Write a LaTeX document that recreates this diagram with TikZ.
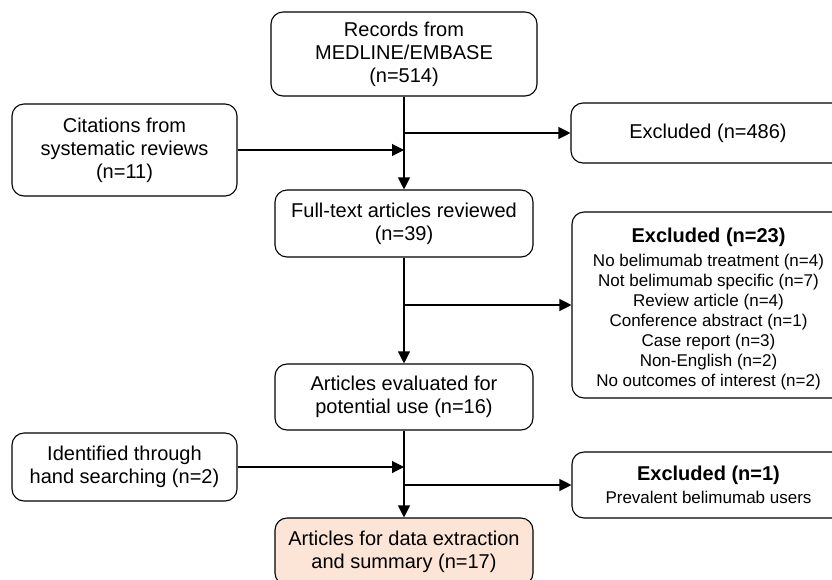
\documentclass[tikz,border=0pt]{standalone}
\usepackage{fontspec}
\setmainfont{Liberation Sans}
\usetikzlibrary{arrows.meta}
\definecolor{peach}{HTML}{FCE4D6}
\tikzset{
  x=1pt,y=1pt,
  box/.style={draw=black, line width=1.1pt, rounded corners=12pt, align=center,
    inner sep=0pt, font=\fontsize{20}{23}\selectfont},
  exbox/.style={box, font=\fontsize{17}{20}\selectfont},
  extext/.style={align=center, inner sep=0pt, font=\fontsize{17}{20}\selectfont},
  conn/.style={line width=1.1pt},
  arr/.style={conn, -{Triangle[length=12pt,width=12pt]}}
}
\begin{document}
\begin{tikzpicture}
\useasboundingbox (0,0) rectangle (832,-579);
\node[box, minimum width=266pt, minimum height=84pt] (top) at (404,-54)
  {Records from\\MEDLINE/EMBASE\\(n=514)};
\node[box, minimum width=225pt, minimum height=92pt] (cit) at (124.5,-150)
  {Citations from\\systematic reviews\\(n=11)};
\node[box, minimum width=274pt, minimum height=60pt] (ex1) at (708,-133)
  {Excluded (n=486)};
\node[box, minimum width=258pt, minimum height=67pt] (full) at (404,-223.5)
  {Full-text articles reviewed\\(n=39)};
\node[exbox, minimum width=273pt, minimum height=186pt] (ex2) at (708.5,-305) {};
\node[extext] (ex2text) at ([yshift=-4pt]ex2.center)
  {{\fontsize{20}{20}\selectfont\bfseries Excluded (n=23)}\\[4pt]
   No belimumab treatment (n=4)\\
   Not belimumab specific (n=7)\\
   Review article (n=4)\\
   Conference abstract (n=1)\\
   Case report (n=3)\\
   Non-English (n=2)\\
   No outcomes of interest (n=2)};
\node[box, minimum width=258pt, minimum height=66pt] (eval) at (404,-397)
  {Articles evaluated for\\potential use (n=16)};
\node[box, minimum width=225pt, minimum height=68pt] (hand) at (124.5,-467)
  {Identified through\\hand searching (n=2)};
\node[exbox, minimum width=273pt, minimum height=66pt] (ex3) at (708.5,-485)
  {{\fontsize{20}{20}\selectfont\bfseries Excluded (n=1)}\\[3pt]
   Prevalent belimumab users};
\node[box, fill=peach, minimum width=258pt, minimum height=67pt] (final) at (404,-551.5)
  {Articles for data extraction\\and summary (n=17)};

\draw[arr] (top.south) -- (full.north);
\draw[arr] (cit.east) -- (cit.east -| top.south);
\draw[arr] (ex1.west -| top.south) -- (ex1.west);
\draw[arr] (full.south) -- (eval.north);
\draw[arr] (ex2.west -| full.south) -- (ex2.west);
\draw[arr] (eval.south) -- (final.north);
\draw[arr] (hand.east) -- (hand.east -| eval.south);
\draw[arr] (ex3.west -| eval.south) -- (ex3.west);
\end{tikzpicture}
\end{document}
